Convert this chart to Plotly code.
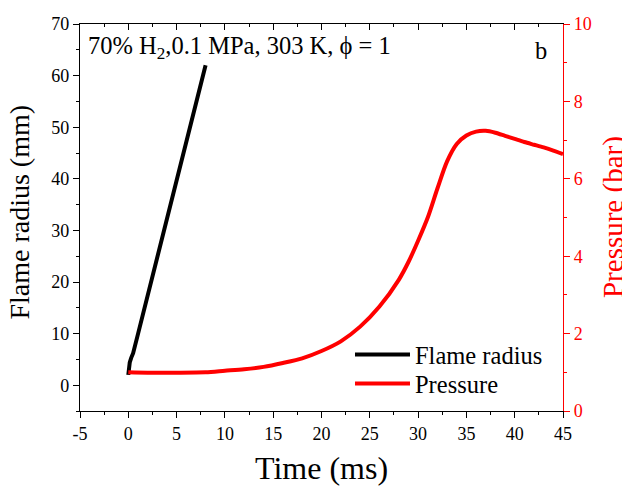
import plotly.graph_objects as go

# Flame radius (mm) vs time (ms)
radius_time = [0, 0.05, 0.15, 0.3, 0.5, 1, 2, 3, 4, 5, 6, 7, 8]
radius_mm = [2.0, 3.2, 4.4, 5.3, 6.2, 9.9, 17.4, 24.8, 32.3, 39.8, 47.2, 54.6, 62.0]

# Pressure (bar) vs time (ms)
pressure_time = [0, 2, 5, 8, 10, 12, 14, 16, 18, 20, 22, 24, 26, 28, 29, 30, 31, 32,
                 33, 34, 35, 36, 37, 38, 39, 40, 41, 42, 43, 44, 45]
pressure_bar = [1.00, 0.99, 0.99, 1.00, 1.04, 1.08, 1.14, 1.24, 1.36, 1.55, 1.80, 2.18,
                2.70, 3.39, 3.85, 4.40, 5.00, 5.75, 6.45, 6.90, 7.12, 7.22, 7.24, 7.19,
                7.11, 7.03, 6.95, 6.88, 6.81, 6.73, 6.64]

x_tickvals = [-5, 0, 5, 10, 15, 20, 25, 30, 35, 40, 45]
x_ticktext = ["-5", "0", "5", "10", "15", "20", "25", "30", "35", "40", "45"]

FONT = "Liberation Serif"

fig = go.Figure()
fig.add_trace(go.Scatter(x=radius_time, y=radius_mm, mode="lines", name="Flame radius",
                         line=dict(color="black", width=4), yaxis="y", legend="legend"))
fig.add_trace(go.Scatter(x=pressure_time, y=pressure_bar, mode="lines", name="Pressure",
                         line=dict(color="#ff0000", width=4, shape="spline", smoothing=0.8),
                         yaxis="y2", legend="legend2"))
fig.add_trace(go.Scatter(x=[None], y=[None], xaxis="x2", showlegend=False, hoverinfo="skip"))

axis_common = dict(showgrid=False, zeroline=False, showline=True, linewidth=1.2,
                   automargin=False)

legend_common = dict(xanchor="left", yanchor="top", bgcolor="rgba(0,0,0,0)",
                     font=dict(size=24.5, family=FONT, color="black"), itemwidth=55)

fig.update_layout(
    width=622, height=483,
    margin=dict(l=72, r=67, t=16, b=80),
    plot_bgcolor="white", paper_bgcolor="white",
    font=dict(family=FONT, size=18, color="black"),
    xaxis=dict(range=[-5, 45], tickvals=x_tickvals, ticktext=x_ticktext,
               ticks="outside", ticklen=6,
               linecolor="black", tickcolor="black",
               minor=dict(dtick=2.5, tick0=0, ticks="outside", ticklen=3, tickcolor="black"),
               tickfont=dict(size=18), **axis_common),
    xaxis2=dict(range=[-5, 45], dtick=5, tick0=0, ticks="inside", ticklen=6,
                overlaying="x", side="top", showticklabels=False,
                linecolor="black", tickcolor="black",
                minor=dict(dtick=2.5, ticks="inside", ticklen=3, tickcolor="black"),
                **axis_common),
    yaxis=dict(range=[-5, 70], dtick=10, tick0=0, ticks="outside", ticklen=6,
               linecolor="black", tickcolor="black",
               minor=dict(dtick=5, tick0=0, ticks="outside", ticklen=3, tickcolor="black"),
               tickfont=dict(size=18), **axis_common),
    yaxis2=dict(range=[0, 10], dtick=2, tick0=0, ticks="outside", ticklen=6,
                overlaying="y", side="right", anchor="x",
                linecolor="#ff0000", tickcolor="#ff0000",
                minor=dict(dtick=1, ticks="outside", ticklen=3, tickcolor="#ff0000"),
                tickfont=dict(size=18, color="#ff0000"), **axis_common),
    legend=dict(x=0.559, y=0.204, **legend_common),
    legend2=dict(x=0.559, y=0.129, **legend_common),
    showlegend=True,
)

# axis titles
fig.add_annotation(text="Time (ms)", xref="paper", yref="paper", x=0.501, y=-0.147,
                   xanchor="center", yanchor="middle", showarrow=False,
                   font=dict(size=32, family=FONT, color="black"))
fig.add_annotation(text="Flame radius (mm)", xref="paper", yref="paper", x=-0.126, y=0.513,
                   xanchor="center", yanchor="middle", showarrow=False, textangle=-90,
                   font=dict(size=28, family=FONT, color="black"))
fig.add_annotation(text="Pressure (bar)", xref="paper", yref="paper", x=1.1046, y=0.5,
                   xanchor="center", yanchor="middle", showarrow=False, textangle=-90,
                   font=dict(size=29, family=FONT, color="#ff0000"))

fig.add_annotation(text="70% H<sub>2</sub>,0.1 MPa, 303 K, ϕ = 1", xref="paper", yref="paper",
                   x=0.012, y=0.985, xanchor="left", yanchor="top", showarrow=False,
                   font=dict(size=24.5, family=FONT, color="black"))
fig.add_annotation(text="b", xref="paper", yref="paper",
                   x=0.971, y=0.972, xanchor="right", yanchor="top", showarrow=False,
                   font=dict(size=24.5, family=FONT, color="black"))

fig.write_html("out.html")
